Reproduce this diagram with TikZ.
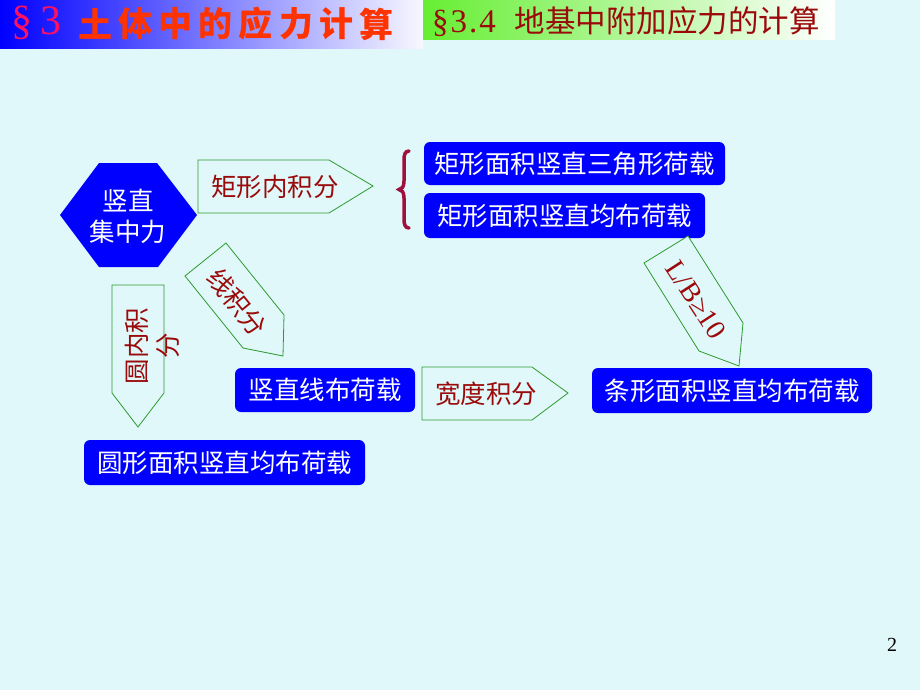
\documentclass[tikz,border=0pt]{standalone}
\usepackage{fontspec}
\setmainfont{Liberation Serif}
\newfontfamily\cjk{Noto Sans CJK SC}
\definecolor{bg}{HTML}{E0F8FA}
\definecolor{dred}{HTML}{9B0A0A}
\definecolor{agreen}{HTML}{2E9A2E}
\definecolor{bracered}{HTML}{A0103C}
\definecolor{titlered}{HTML}{FF3300}
\definecolor{sectpink}{HTML}{FF1060}
\definecolor{tgreen}{HTML}{66EE33}
\definecolor{offwhite}{HTML}{F8F8FF}
\tikzset{
  bluebox/.style={fill=blue, rounded corners=6pt, text=white, inner sep=0pt,
    font=\cjk\fontsize{25.5}{25.5}\selectfont},
  arrowshape/.style={draw=agreen, line width=0.8pt, fill=bg, line join=miter},
  arrowtext/.style={text=dred, inner sep=0pt, font=\cjk\fontsize{25.5}{31}\selectfont},
  titlechar/.style={text=titlered, inner sep=0pt, font=\cjk\bfseries\fontsize{34}{34}\selectfont}
}
\begin{document}
\begin{tikzpicture}[x=1pt,y=-1pt]
\useasboundingbox (0,0) rectangle (920,690);
\fill[bg] (0,0) rectangle (920,690);
% title bars
\shade[left color=blue, right color=offwhite] (0,0) rectangle (423,49);
\shade[left color=tgreen, right color=white] (423,0) rectangle (835,40);
\node (sect) [text=sectpink, inner sep=0pt, font=\fontsize{42}{42}\selectfont] at (37,23) {§\hspace{8pt}3};
\foreach \c [count=\i] in {土,体,中,的,应,力,计,算}
  \node (t\i) [titlechar] at ({95+(\i-1)*40.2},24) {\c};
\node (sub) [anchor=west, inner sep=0pt, text=dred] at (432,22)
  {{\fontsize{33}{33}\selectfont §\kern2pt3\kern2pt.\kern2pt4}\hspace{19pt}{\cjk\fontsize{30.5}{30.5}\selectfont 地基中附加应力的计算}};
% hexagon
\fill[blue] (60,215) -- (99,163) -- (157,163) -- (197,215) -- (158,267) -- (99,267) -- cycle;
\node (hex) [text=white, align=center, inner sep=0pt, font=\cjk\fontsize{25.5}{31}\selectfont] at (128,216) {竖直\\集中力};
% arrow: 矩形内积分
\draw[arrowshape] (198,160) -- (329,160) -- (373,186) -- (329,213) -- (198,213) -- cycle;
\node (a1) [arrowtext] at (275,187) {矩形内积分};
% brace
\draw[bracered, line width=3.5pt, line cap=round]
  (409,151) .. controls (405,151) and (404,155) .. (404,160) -- (404,181)
  .. controls (404,187) and (402,189) .. (399,189.5)
  .. controls (402,190) and (404,192) .. (404,198) -- (404,219)
  .. controls (404,224) and (405,228) .. (409,228);
% blue boxes
\node (b1) [bluebox, minimum width=301pt, minimum height=43pt] at (574.5,163.5) {矩形面积竖直三角形荷载};
\node (b2) [bluebox, minimum width=281pt, minimum height=45pt] at (564.5,215.5) {矩形面积竖直均布荷载};
\node (b3) [bluebox, minimum width=180pt, minimum height=44pt] at (325,390) {竖直线布荷载};
\node (b4) [bluebox, minimum width=280pt, minimum height=45pt] at (732,390.5) {条形面积竖直均布荷载};
\node (b5) [bluebox, minimum width=281pt, minimum height=45pt] at (224.5,462.5) {圆形面积竖直均布荷载};
% arrow: 线积分
\draw[arrowshape] (185,276) -- (226,243) -- (284,315) -- (283,356) -- (243,348) -- cycle;
\node (a2) [arrowtext, rotate=-51] at (237,302) {线积分};
% arrow: 圆内积分
\draw[arrowshape] (112,285) -- (164,285) -- (164,393) -- (138,427) -- (112,393) -- cycle;
\node (a3) [arrowtext, rotate=90, align=center] at (152.5,346) {圆内积\\分};
% arrow: 宽度积分
\draw[arrowshape] (422,367) -- (532,367) -- (568,393) -- (532,420) -- (422,420) -- cycle;
\node (a4) [arrowtext] at (486,394) {宽度积分};
% arrow: L/B>=10
\draw[arrowshape] (644,263) -- (688,236) -- (743,323) -- (739,366) -- (699,351) -- cycle;
\node (a5) [text=dred, inner sep=0pt, rotate=-57, font=\fontsize{28}{28}\selectfont] at (696,300) {L/B≥10};
% page number
\node (pg) [inner sep=0pt, font=\fontsize{20}{20}\selectfont] at (892,645) {2};
\end{tikzpicture}
\end{document}
